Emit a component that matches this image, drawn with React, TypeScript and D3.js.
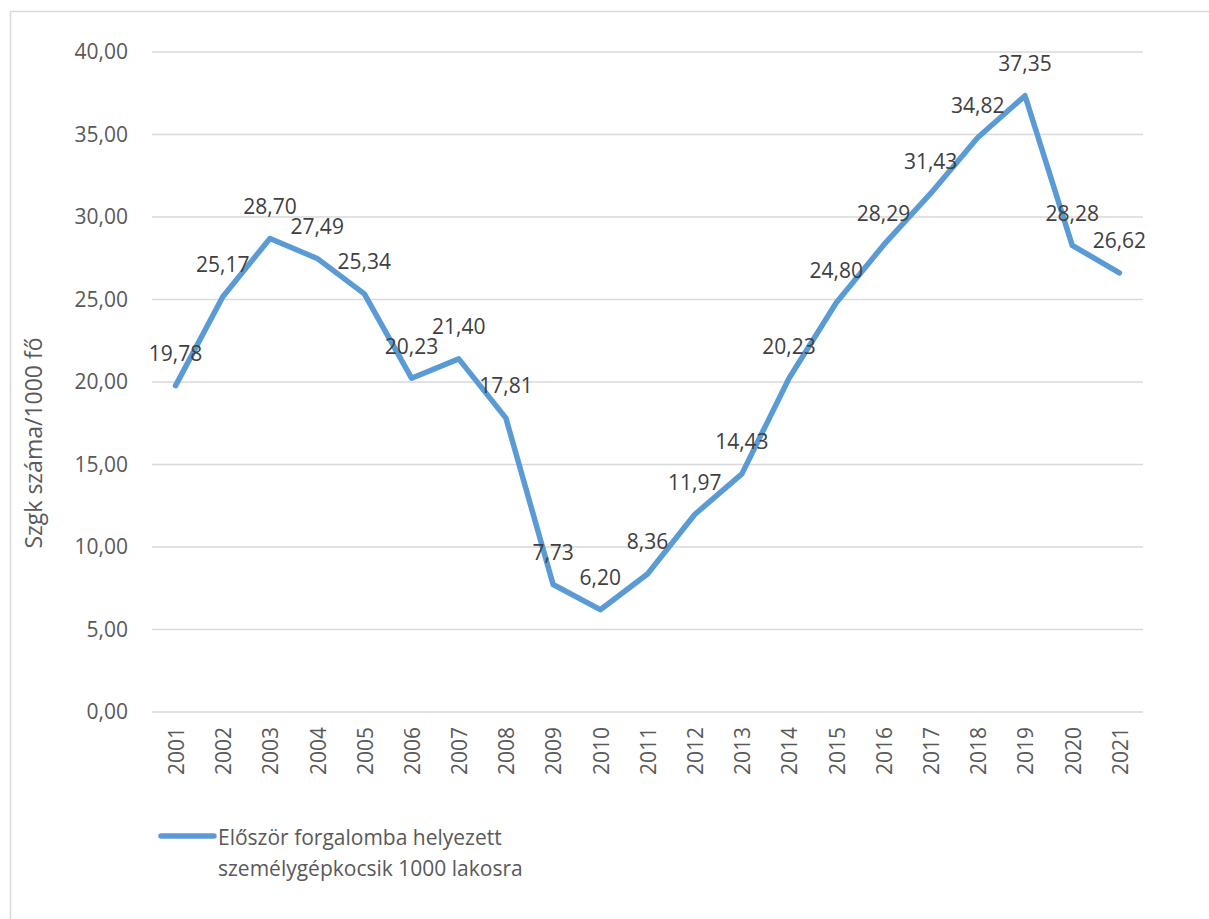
import React, { useEffect, useRef } from 'react';
import * as d3 from 'd3';

const years = ['2001', '2002', '2003', '2004', '2005', '2006', '2007', '2008', '2009', '2010', '2011',
  '2012', '2013', '2014', '2015', '2016', '2017', '2018', '2019', '2020', '2021'];
const values = [19.78, 25.17, 28.7, 27.49, 25.34, 20.23, 21.4, 17.81, 7.73, 6.2, 8.36,
  11.97, 14.43, 20.23, 24.8, 28.29, 31.43, 34.82, 37.35, 28.28, 26.62];
const yTicks = [0, 5, 10, 15, 20, 25, 30, 35, 40];
const seriesName = ['Először forgalomba helyezett', 'személygépkocsik 1000 lakosra'];
const yTitle = 'Szgk száma/1000 fő';

const fmt = (v: number) => v.toFixed(2).replace('.', ',');

const App = () => {
  const ref = useRef<SVGSVGElement>(null);

  useEffect(() => {
    const svg = d3.select(ref.current);
    svg.selectAll('*').remove();

    const width = 1209;
    const height = 919;
    const margin = { top: 52, right: 66, bottom: 207, left: 152 };
    const font = "'Open Sans', sans-serif";

    const x = d3.scaleBand()
      .domain(years)
      .range([margin.left, width - margin.right]);
    const y = d3.scaleLinear()
      .domain([0, 40])
      .range([height - margin.bottom, margin.top]);
    const cx = (d: string) => (x(d) as number) + x.bandwidth() / 2;

    // outer chart border
    svg.append('rect')
      .attr('x', 10.5).attr('y', 11.5)
      .attr('width', width + 20).attr('height', height + 20)
      .attr('fill', 'none').attr('stroke', '#d9d9d9').attr('stroke-width', 1.5);

    // gridlines
    svg.append('g')
      .selectAll('line')
      .data(yTicks)
      .enter().append('line')
      .attr('x1', margin.left).attr('x2', width - margin.right)
      .attr('y1', d => y(d)).attr('y2', d => y(d))
      .attr('stroke', '#d9d9d9').attr('stroke-width', 1.5);

    // y tick labels
    svg.append('g')
      .selectAll('text')
      .data(yTicks)
      .enter().append('text')
      .attr('x', 128).attr('y', d => y(d))
      .attr('dy', '0.35em')
      .attr('text-anchor', 'end')
      .attr('font-family', font).attr('font-size', 21).attr('fill', '#595959')
      .text(d => fmt(d));

    // x tick labels (rotated)
    svg.append('g')
      .selectAll('text')
      .data(years)
      .enter().append('text')
      .attr('transform', d => `translate(${cx(d) + 1},${height - margin.bottom + 15}) rotate(-90)`)
      .attr('text-anchor', 'end')
      .attr('dy', '0.35em')
      .attr('font-family', font).attr('font-size', 21).attr('fill', '#595959')
      .text(d => d);

    // y axis title
    svg.append('text')
      .attr('transform', `translate(34,443) rotate(-90)`)
      .attr('text-anchor', 'middle')
      .attr('dy', '0.35em')
      .attr('font-family', font).attr('font-size', 23).attr('fill', '#595959')
      .text(yTitle);

    // line
    const line = d3.line<number>()
      .x((_, i) => cx(years[i]))
      .y(d => y(d));
    svg.append('path')
      .datum(values)
      .attr('d', line)
      .attr('fill', 'none')
      .attr('stroke', '#5b9bd5').attr('stroke-width', 5.5)
      .attr('stroke-linejoin', 'round').attr('stroke-linecap', 'round');

    // data labels
    svg.append('g')
      .selectAll('text')
      .data(values)
      .enter().append('text')
      .attr('x', (_, i) => cx(years[i]))
      .attr('y', d => y(d) - 32)
      .attr('dy', '0.35em')
      .attr('text-anchor', 'middle')
      .attr('font-family', font).attr('font-size', 21).attr('fill', '#404040')
      .text(d => fmt(d));

    // legend
    const lg = svg.append('g');
    lg.append('line')
      .attr('x1', 161).attr('x2', 214).attr('y1', 836).attr('y2', 836)
      .attr('stroke', '#5b9bd5').attr('stroke-width', 5.5).attr('stroke-linecap', 'round');
    lg.selectAll('text')
      .data(seriesName)
      .enter().append('text')
      .attr('x', 218).attr('y', (_, i) => 845 + i * 31)
      .attr('font-family', font).attr('font-size', 21).attr('fill', '#595959')
      .text(d => d);
  }, []);

  return (
    <svg ref={ref} width={1209} height={919}
      style={{ position: 'absolute', left: 0, top: 0, background: '#fff' }} />
  );
};

export default App;
